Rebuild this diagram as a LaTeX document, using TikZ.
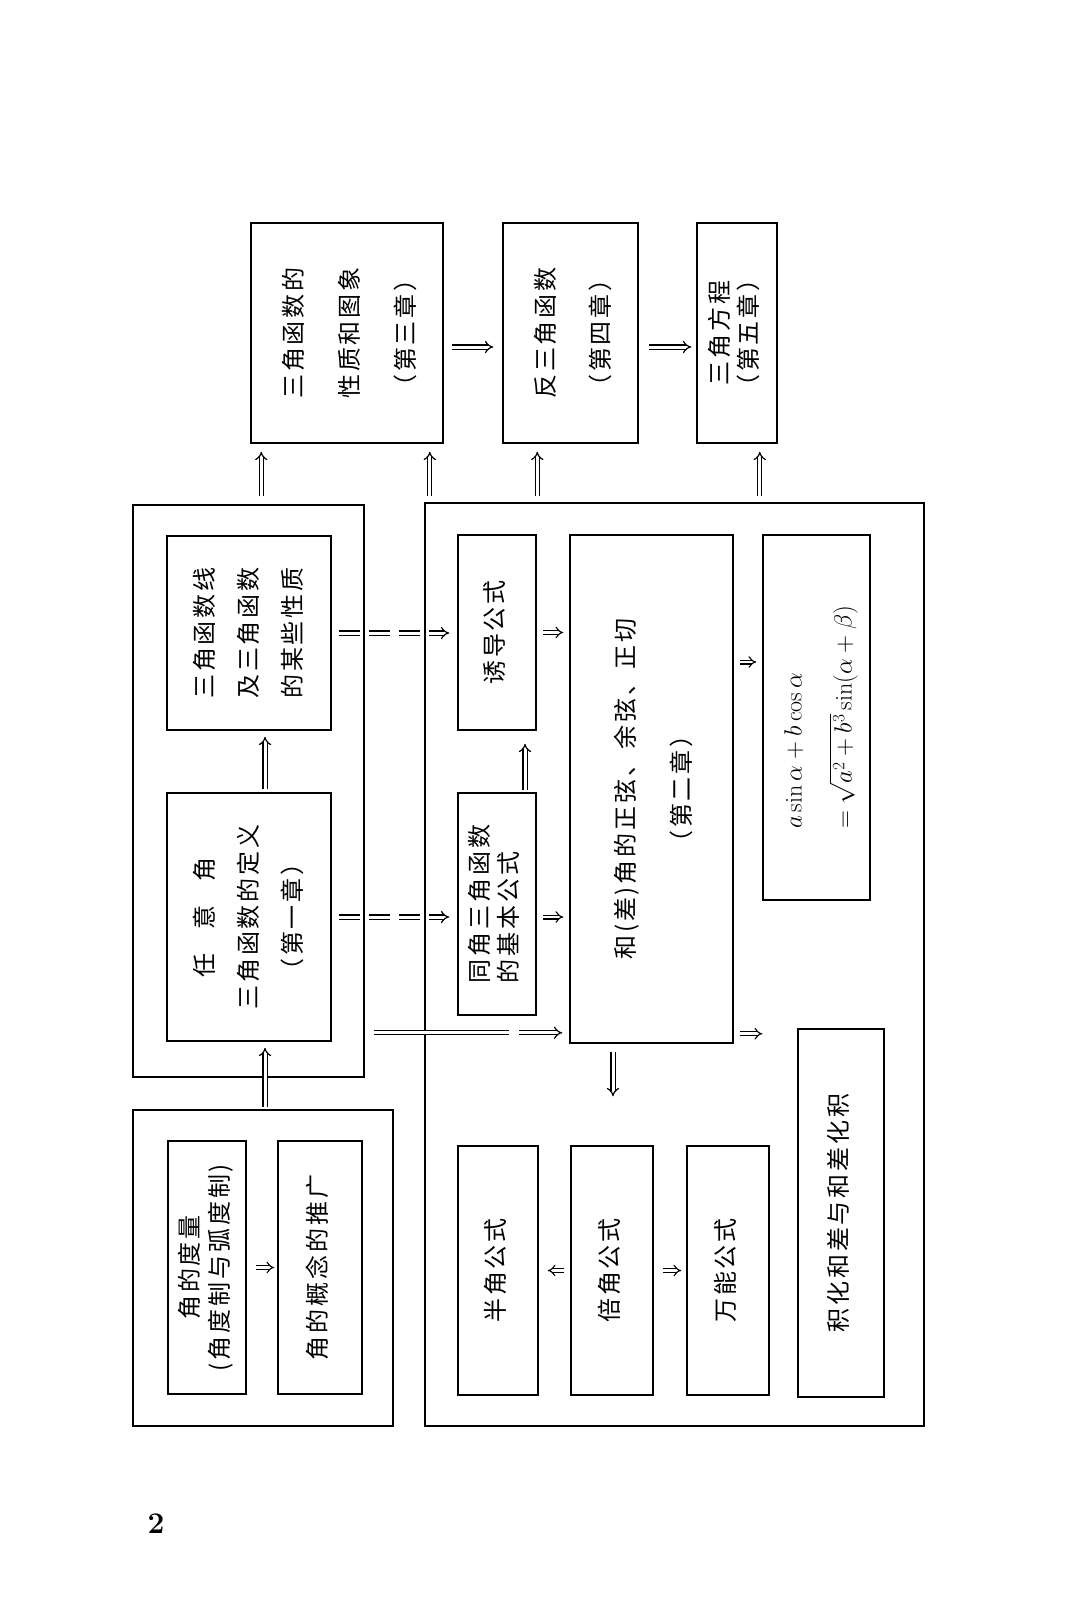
\documentclass[tikz,border=0pt]{standalone}
\usepackage{fontspec}
\usepackage{graphicx}
\usetikzlibrary{arrows.meta}
\newfontfamily\cjk[LetterSpace=12]{Noto Sans CJK SC}
% text of a box, turned to read from bottom to top
\newcommand{\vlines}[3][c]{\rotatebox{90}{\fontsize{24pt}{#2}\selectfont
    \begin{tabular}{@{}#1@{}}#3\end{tabular}}}
\begin{document}
\begin{tikzpicture}[
    x=1pt, y=-1pt,
    box/.style   = {draw, line width=1.5pt, inner sep=0pt, font=\cjk},
    frame/.style = {draw, line width=1.8pt, inner sep=0pt},
    imp/.style   = {double, double distance=3pt, line width=1.2pt, -{Implies}},
    dimp/.style  = {imp, dash pattern=on 21pt off 9pt},
    simp/.style  = {double, double distance=2.8pt, line width=1.1pt, -{Implies},
                    shorten <=6pt, shorten >=6pt}
    ]
    \useasboundingbox (0,0) rectangle (1080,1608);
    %--- outer frames ---
    \node[frame, minimum width=231pt, minimum height=572pt] (ch1)  at (248.5,791) {};
    \node[frame, minimum width=260pt, minimum height=316pt] (meas) at (263,1268)  {};
    \node[frame, minimum width=499pt, minimum height=923pt] (ch2)  at (674.5,964.5) {};
    
    %--- top row ---
    \node[box, minimum width=192pt, minimum height=220pt] (graph) at (347,333)
        {\vlines{56pt}{三角函数的\\性质和图象\\（第三章）}};
    \node[box, minimum width=135pt, minimum height=220pt] (inv) at (570.5,333)
        {\vlines{55pt}{反三角函数\\（第四章）}};
    \node[box, minimum width=80pt, minimum height=220pt] (eqn) at (737,333)
        {\vlines{28pt}{三角方程\\（第五章）}};
    
    %--- chapter one ---
    \node[box, minimum width=164pt, minimum height=194pt] (line) at (249,633)
        {\vlines{44pt}{三角函数线\\及三角函数\\的某些性质}};
    \node[box, minimum width=164pt, minimum height=248pt] (def) at (249,917)
        {\vlines{44pt}{任\hspace{1em}意\hspace{1em}角\\三角函数的定义\\（第一章）}};
    \node[box, minimum width=78pt, minimum height=253pt] (deg) at (207,1267.5)
        {\vlines{30pt}{角的度量\\(角度制与弧度制)}};
    \node[box, minimum width=84pt, minimum height=253pt] (gen) at (320,1267.5)
        {\vlines{30pt}{角的概念的推广}};
    
    %--- chapter two ---
    \node[box, minimum width=78pt, minimum height=195pt] (ind) at (497,632.5)
        {\vlines{30pt}{诱导公式}};
    \node[box, minimum width=78pt, minimum height=222pt] (basic) at (497,904)
        {\vlines[l]{27pt}{同角三角函数\\的基本公式}};
    \node[box, minimum width=163pt, minimum height=508pt] (sum) at (651.5,789)
        {\vlines{56pt}{和(差)角的正弦、余弦、正切\\（第二章）}};
    \node[box, minimum width=107pt, minimum height=365pt] (aux) at (816.5,717.5)
        {\vlines[l]{50pt}{$a\sin\alpha+b\cos\alpha$\\$=\sqrt{a^2+b^3}\sin(\alpha+\beta)$}};
    \node[box, minimum width=86pt, minimum height=368pt] (prod) at (841,1213)
        {\vlines{30pt}{积化和差与和差化积}};
    \node[box, minimum width=80pt, minimum height=249pt] (half) at (498,1270.5)
        {\vlines{30pt}{半角公式}};
    \node[box, minimum width=82pt, minimum height=249pt] (twice) at (612,1270.5)
        {\vlines{30pt}{倍角公式}};
    \node[box, minimum width=82pt, minimum height=249pt] (univ) at (728,1270.5)
        {\vlines{30pt}{万能公式}};
    
    %--- page number ---
    \node (pg) at (156,1524) {\fontsize{30pt}{30pt}\selectfont\bfseries 2};
    
    %--- arrows of the top row ---
    \draw[imp, shorten <=8pt, shorten >=9pt] ([yshift=-14pt]graph.east) -- ([yshift=-14pt]graph.east -| inv.west);
    \draw[imp, shorten <=10pt, shorten >=5pt] ([yshift=-14pt]inv.east) -- ([yshift=-14pt]inv.east -| eqn.west);
    \draw[imp, shorten <=8pt, shorten >=8pt] ([xshift=11pt]graph.south west |- ch1.north) -- ([xshift=11pt]graph.south west);
    \draw[imp, shorten <=6pt, shorten >=8pt] ([xshift=-14pt]graph.south east |- ch2.north) -- ([xshift=-14pt]graph.south east);
    \draw[imp, shorten <=6pt, shorten >=8pt] ([xshift=35pt]inv.south west |- ch2.north) -- ([xshift=35pt]inv.south west);
    \draw[imp, shorten <=6pt, shorten >=8pt] ([xshift=-18pt]eqn.south east |- ch2.north) -- ([xshift=-18pt]eqn.south east);
    
    %--- arrows of chapter one ---
    \draw[imp, shorten <=3pt, shorten >=6pt] ([xshift=16pt]def.north) -- ([xshift=16pt]line.south);
    \draw[imp, shorten <=2pt, shorten >=6pt] ([xshift=16pt]def.south |- meas.north) -- ([xshift=16pt]def.south);
    \draw[simp, shorten <=9pt, shorten >=3pt] (deg) -- (gen);
    
    %--- from chapter one to chapter two ---
    \draw[dimp, shorten <=7pt, shorten >=8pt] (line.east) -- (line.east -| ind.west);
    \draw[dimp, shorten <=7pt, shorten >=8pt] (def.east) -- (def.east -| basic.west);
    \coordinate (sin) at ([yshift=11pt]sum.south west);
    \draw[imp, dash pattern=on 135pt off 10pt on 200pt, shorten <=9pt, shorten >=7pt] (ch1.east |- sin) -- (sin);
    
    %--- arrows of chapter two ---
    \draw[imp, shorten <=2pt, shorten >=13pt] ([xshift=28pt]basic.north) -- ([xshift=28pt]ind.south);
    \draw[simp] (ind.east) -- (ind.east -| sum.west);
    \draw[simp] (def.east -| basic.east) -- (def.east -| sum.west);
    \draw[simp] ([yshift=127pt]sum.east) -- ([yshift=127pt]sum.east -| aux.west);
    \draw[simp, shorten >=35pt] ([yshift=10pt]sum.south east) -- ([yshift=10pt]sum.south east -| prod.west);
    \draw[imp, shorten <=8pt, shorten >=49pt] ([xshift=-38.5pt]sum.south) -- ([xshift=-38.5pt]sum.south |- twice.north);
    \draw[simp, shorten >=9pt] (twice) -- (half);
    \draw[simp, shorten <=9pt, shorten >=5pt] (twice) -- (univ);
\end{tikzpicture}
\end{document}
